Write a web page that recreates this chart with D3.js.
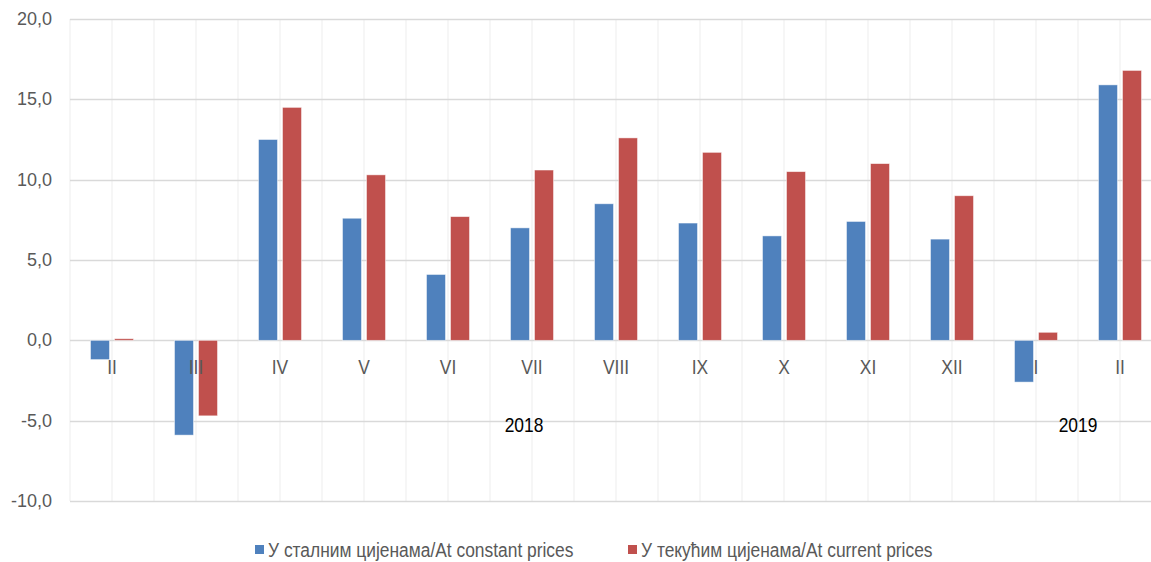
<!doctype html>
<html lang="sr">
  <head>
    <meta charset="UTF-8" />
    <title>Промет у трговини на мало</title>
    <script src="https://d3js.org/d3.v7.min.js"></script>
    <style>
      body { margin: 0; background: #fff; }
      svg { display: block; }
      .narrow { font-family: 'Liberation Sans Narrow', 'Arial Narrow', 'Liberation Sans', Arial, sans-serif; }
      .ylab { font-family: 'Liberation Sans', Arial, sans-serif; font-size: 18px; fill: #595959; }
    </style>
  </head>
  <body>
    <svg width="1151" height="562"></svg>
    <script>
      // months, Feb 2018 - Feb 2019
      const months = ['II', 'III', 'IV', 'V', 'VI', 'VII', 'VIII', 'IX', 'X', 'XI', 'XII', 'I', 'II'];
      const years = [
        { label: '2018', first: 0, last: 10 },
        { label: '2019', first: 11, last: 12 },
      ];
      const constantPrices = [-1.2, -5.9, 12.5, 7.6, 4.1, 7.0, 8.5, 7.3, 6.5, 7.4, 6.3, -2.6, 15.9];
      const currentPrices = [0.1, -4.7, 14.5, 10.3, 7.7, 10.6, 12.6, 11.7, 10.5, 11.0, 9.0, 0.5, 16.8];
      const seriesNames = ['У сталним цијенама/At constant prices', 'У текућим цијенама/At current prices'];
      const colors = ['#4f81bd', '#c0504d'];
      const yTicks = [-10, -5, 0, 5, 10, 15, 20];

      const svg = d3.select('svg');
      const margin = { top: 19, left: 70, bottom: 61 };
      const height = 562;
      const squeeze = 0.87; // no narrow font installed, so compress horizontally

      const idx = months.map((d, i) => i);
      const x = d3.scaleBand().domain(idx).range([margin.left, margin.left + 84 * months.length]).padding(0);
      const xs = d3.scaleBand().domain([0, 1]).range([0, x.bandwidth()])
        .paddingInner(5 / 24).paddingOuter(0.854);
      const y = d3.scaleLinear().domain([-10, 20]).range([height - margin.bottom, margin.top]);

      const fmt = (v) => d3.format('.1f')(v).replace('.', ',').replace('−', '-');

      // vertical grid (every half category)
      const vLines = [];
      idx.forEach((i) => { vLines.push(x(i)); vLines.push(x(i) + x.bandwidth() / 2); });
      vLines.push(x(idx.length - 1) + x.bandwidth());
      svg.append('g')
        .selectAll('line')
        .data(vLines)
        .join('line')
        .attr('x1', (d) => d).attr('x2', (d) => d)
        .attr('y1', y(20)).attr('y2', y(-10))
        .attr('stroke', '#ededed')
        .attr('stroke-width', 1);

      // horizontal grid
      svg.append('g')
        .selectAll('line')
        .data(yTicks)
        .join('line')
        .attr('x1', margin.left).attr('x2', 1151)
        .attr('y1', (d) => Math.round(y(d)) + 0.5).attr('y2', (d) => Math.round(y(d)) + 0.5)
        .attr('stroke', '#d9d9d9')
        .attr('stroke-width', 1.3);

      // y labels
      svg.append('g')
        .selectAll('text')
        .data(yTicks)
        .join('text')
        .attr('class', 'ylab')
        .attr('x', 52)
        .attr('y', (d) => y(d) + 6)
        .attr('text-anchor', 'end')
        .text(fmt);

      // bars
      const series = [constantPrices, currentPrices];
      series.forEach((vals, s) => {
        svg.append('g')
          .selectAll('rect')
          .data(vals)
          .join('rect')
          .attr('x', (d, i) => x(i) + xs(s))
          .attr('width', xs.bandwidth())
          .attr('y', (d) => y(Math.max(0, d)))
          .attr('height', (d) => Math.abs(y(d) - y(0)))
          .attr('fill', colors[s])
          .attr('stroke', '#ffffff')
          .attr('stroke-opacity', 0.6)
          .attr('stroke-width', 0.8);
      });

      // month labels
      svg.append('g')
        .selectAll('text')
        .data(months)
        .join('text')
        .attr('class', 'narrow')
        .attr('transform', (d, i) => `translate(${x(i) + x.bandwidth() / 2},374) scale(${squeeze},1)`)
        .attr('text-anchor', 'middle')
        .style('font-size', '20px')
        .style('fill', '#595959')
        .text((d) => d);

      // year labels
      svg.append('g')
        .selectAll('text')
        .data(years)
        .join('text')
        .attr('class', 'narrow')
        .attr('transform', (d) => `translate(${(x(d.first) + x(d.last) + x.bandwidth()) / 2 - (d.last - d.first > 5 ? 8 : 0)},432) scale(${squeeze},1)`)
        .attr('text-anchor', 'middle')
        .style('font-size', '20px')
        .style('fill', '#000')
        .text((d) => d.label);

      // legend
      const legendX = [255, 628];
      const legend = svg.append('g')
        .selectAll('g')
        .data(seriesNames)
        .join('g')
        .attr('transform', (d, i) => `translate(${legendX[i]},545)`);
      legend.append('rect')
        .attr('width', 9).attr('height', 9)
        .attr('fill', (d, i) => colors[i]);
      legend.append('text')
        .attr('class', 'narrow')
        .attr('transform', `translate(13,12) scale(${squeeze},1)`)
        .style('font-size', '20px')
        .style('fill', '#595959')
        .text((d) => d);
    </script>
  </body>
</html>
